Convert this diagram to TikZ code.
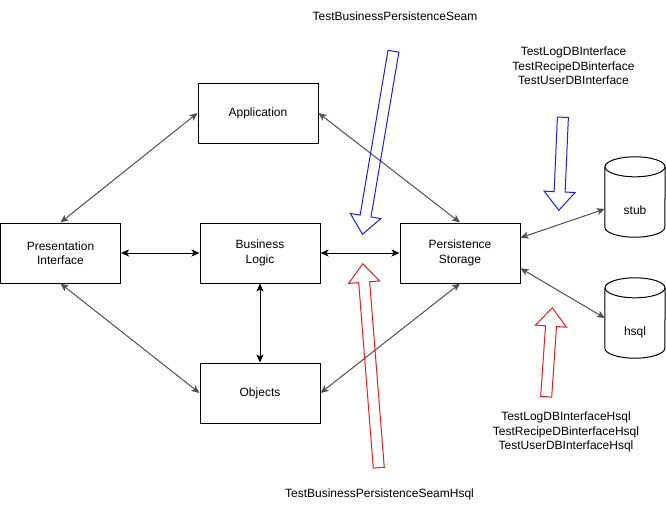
\documentclass[tikz,border=0pt]{standalone}
\usepackage{fontspec}
\setmainfont{Liberation Sans}
\usepackage{tikz}
\usetikzlibrary{arrows.meta, calc, shapes.arrows}
\definecolor{link}{RGB}{80,80,80}
\definecolor{seamblue}{RGB}{30,30,230}
\definecolor{seamred}{RGB}{230,30,30}
\tikzstyle{layer}=[draw, line width=1pt, rectangle, minimum width=120, minimum height=60, align=center, font=\fontsize{12}{14.5}\selectfont]
\tikzstyle{db}=[rectangle, inner sep=0pt, minimum width=60, minimum height=80]
\tikzstyle{both}=[{Stealth[length=8pt,width=7pt,inset=2pt]}-{Stealth[length=8pt,width=7pt,inset=2pt]}, line width=1pt]
\tikzstyle{seam}=[single arrow, draw, line width=1pt, inner sep=5pt, single arrow head extend=10pt, single arrow tip angle=80]
\tikzstyle{note}=[align=center, font=\fontsize{12}{14.5}\selectfont]
% cylinder outline round a db node
\newcommand{\drum}[1]{%
  \draw[line width=1pt] ([yshift=-10pt]#1.north west) -- ([yshift=10pt]#1.south west)
    arc[start angle=180, end angle=360, x radius=30pt, y radius=10pt] -- ([yshift=-10pt]#1.north east);
  \draw[line width=1pt] ([yshift=-10pt]#1.north) ellipse [x radius=30pt, y radius=10pt];}

\begin{document}
\begin{tikzpicture}[x=1pt, y=-1pt]
\useasboundingbox (0,0) rectangle (666,511);

% layers
\node[layer] (app)     at (258,113)  {Application};
\node[layer] (pres)    at (60.5,253) {Presentation\\Interface};
\node[layer] (logic)   at (260,253)  {Business\\Logic};
\node[layer] (objects) at (260,393)  {Objects};
\node[layer] (persist) at (460,253)  {Persistence\\Storage};

% databases
\node[db, label={[note, yshift=-13]center:stub}] (stub) at (635,197) {};
\node[db, label={[note, yshift=-14]center:hsql}] (hsql) at (635,318) {};
\drum{stub}
\drum{hsql}

\draw[both, link] (pres.north) -- (app.west);
\draw[both] (pres.east) -- (logic.west);
\draw[both, link] (pres.south) -- (objects.west);
\draw[both] (logic.south) -- (objects.north);
\draw[both] (logic.east) -- (persist.west);
\draw[both, link] (app.east) -- (persist.north);
\draw[both, link] (objects.east) -- (persist.south);
\draw[both, link] ($(persist.north east)!0.25!(persist.south east)$) -- ([yshift=-12]stub.west);
\draw[both, link] ($(persist.north east)!0.75!(persist.south east)$) -- (hsql.west);

% seams
\node[seam, draw=seamblue, minimum height=185.6, rotate=-99.6] (seamin)   at (378.5,139.5) {};
\node[seam, draw=seamblue, minimum height=93.1,  rotate=-92.5] (dbin)     at (561,160.5)   {};
\node[seam, draw=seamred,  minimum height=204.6, rotate=94.5]  (seamhsql) at (371,369)     {};
\node[seam, draw=seamred,  minimum height=89.2,  rotate=86.1]  (dbhsql)   at (549,355.5)   {};

\node[note] (seamtop) at (395,16)    {TestBusinessPersistenceSeam};
\node[note] (dbtop)   at (573.5,66)  {TestLogDBInterface\\TestRecipeDBinterface\\TestUserDBInterface};
\node[note] (dbbot)   at (566,432)   {TestLogDBInterfaceHsql\\TestRecipeDBinterfaceHsql\\TestUserDBInterfaceHsql};
\node[note] (seambot) at (379.5,494) {TestBusinessPersistenceSeamHsql};
\end{tikzpicture}
\end{document}
